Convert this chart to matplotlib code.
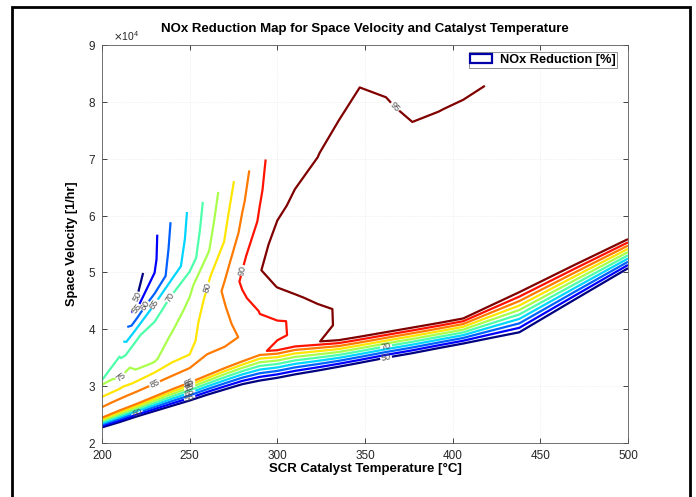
import numpy as np
import matplotlib
matplotlib.use('Agg')
import matplotlib.pyplot as plt
from matplotlib.patches import Patch, Rectangle

# SCR catalyst temperature [degC] for each column of the map
temps = [200, 210, 220, 230, 240, 250, 260, 270, 280, 290, 300, 310, 323,
         335, 347, 362, 377, 392, 406, 420, 438, 470, 500]

# space velocity [x1e4 1/hr]: lower edge of the map, ridge line, upper edge
sv_bottom = [2.26, 2.35, 2.45, 2.54, 2.63, 2.72, 2.82, 2.91, 3.00, 3.06, 3.11, 3.17,
             3.24, 3.31, 3.38, 3.47, 3.55, 3.64, 3.72, 3.80, 3.90, 4.49, 5.04]
sv_ridge = [2.46, 2.59, 2.71, 2.84, 2.97, 3.09, 3.22, 3.35, 3.47, 3.60, 3.65, 3.71,
            3.78, 3.84, 3.90, 3.98, 4.06, 4.14, 4.22, 4.43, 4.70, 5.18, 5.62]
sv_max = [3.11, 3.55, 4.66, 5.62, 5.91, 6.09, 6.29, 6.49, 6.71, 6.92, 7.12, 7.35,
          7.65, 8.05, 8.50, 8.60, 8.60, 8.55, 8.45, 8.26, 8.30, 8.40, 8.50]

# position of each map row between ridge (0) and upper edge (1)
row_frac = [0, 0.06, 0.13, 0.22, 0.32, 0.43, 0.55, 0.70, 0.85, 1.0]

# NOx reduction [%] on the lower edge, and from the ridge upwards (one list per column)
nox_bottom = 47.0
nox_upper = [
    [88, 87.35, 86.6, 85.6, 84.2, 82.1, 79.8, 77.5, 75.2, 69.8],
    [88, 87.1, 86.1, 84.5, 81.6, 78.5, 75.3, 73.3, 71.5, 69.6],
    [88, 86.4, 84.0, 78.4, 74.3, 72.6, 70.8, 63.8, 54.7, 47.9],
    [88, 85.9, 81.0, 74.4, 72.9, 71.25, 66.9, 55.8, 54.2, 54.0],
    [88, 85.9, 80.7, 77.9, 75.3, 72.9, 70.4, 62.5, 61.5, 60.6],
    [88, 86.3, 80.6, 78.5, 77.7, 76.2, 73.9, 67.5, 66.3, 65.8],
    [88, 86.1, 84.6, 83.0, 82.3, 81.0, 79.1, 74.3, 72.6, 71.4],
    [88, 86.2, 84.5, 83.6, 84.6, 85.9, 83.7, 80.2, 78.7, 77.1],
    [88, 86.6, 85.15, 87.2, 89.1, 90.8, 89.0, 86.3, 84.3, 82.6],
    [89, 88.9, 89.2, 90.2, 92.5, 94.8, 93.5, 90.6, 89.4, 88.6],
    [91.5, 89.5, 89.5, 92.5, 95.2, 97.0, 96.5, 94.3, 93.3, 92.8],
    [91.0, 90.4, 90.5, 94.5, 96.2, 97.5, 97.2, 95.6, 94.0, 93.5],
    [94.6, 94.2, 94.3, 95.8, 97.5, 98.0, 97.5, 96.2, 94.9, 93.5],
    [98, 95.3, 95.3, 96.5, 97.5, 98, 98, 97.5, 96.0, 93.5],
    [98, 97.5, 97.5, 98, 98, 98, 98, 97.5, 96.8, 94.0],
    [98, 98.5, 98.5, 98.5, 98.5, 98.5, 98.5, 97.5, 95.5, 93.5],
    [98, 98.5, 98.5, 98.5, 98.5, 98.5, 98, 96.5, 94.0, 93.0],
    [98, 98.5, 98.5, 98.5, 98.5, 98.5, 98, 97.0, 94.8, 93.5],
    [98, 98.5, 98.5, 98.5, 98.5, 98.5, 98, 97.5, 95.8, 93.5],
    [98, 98.5, 98.5, 98.5, 98.5, 98.5, 98, 97.5, 96.5, 95.2],
    [98, 98, 98, 98, 98, 98, 98, 98, 98, 98],
    [98, 98, 98, 98, 98, 98, 98, 98, 98, 98],
    [98, 98, 98, 98, 98, 98, 98, 98, 98, 98],
]
levels = [50, 55, 60, 65, 70, 75, 80, 85, 90, 95]

# build the curvilinear map grid
t = np.array(temps, dtype=float)
lo = np.array(sv_bottom)
top = np.array(sv_ridge)
hi = np.array(sv_max)
frac = np.array(row_frac)[:, None]
Y = np.vstack([lo, top + frac * (hi - top)]) * 1e4
X = np.tile(t, (Y.shape[0], 1))
Z = np.vstack([np.full(len(t), nox_bottom), np.array(nox_upper).T])

plt.rcParams['font.family'] = ['Liberation Sans', 'DejaVu Sans']

fig = plt.figure(figsize=(6.96, 4.97), dpi=100)
ax = fig.add_axes([102 / 696, 1 - 443 / 497, 526 / 696, 398 / 497])

cs = ax.contour(X, Y, Z, levels=levels, cmap='jet', vmin=50, vmax=95, linewidths=1.6)
ax.clabel(cs, fmt='%d', fontsize=6.5, colors='0.3', inline=True, inline_spacing=1)

ax.set_xlim(200, 500)
ax.set_ylim(2e4, 9e4)
ax.set_xticks(np.arange(200, 501, 50))
ax.set_yticks(np.arange(2e4, 9.01e4, 1e4))
ax.ticklabel_format(axis='y', style='sci', scilimits=(4, 4), useMathText=True)
ax.yaxis.get_offset_text().set_fontsize(7.5)
ax.yaxis.get_offset_text().set_x(0.02)
ax.tick_params(direction='in', top=True, right=True, length=3.5, width=0.6,
               labelsize=8.5, colors='0.15')
ax.tick_params(axis='x', pad=5)
ax.tick_params(axis='y', pad=4)
for s in ax.spines.values():
    s.set_linewidth(0.6)
    s.set_color('0.35')
ax.grid(True, linestyle=':', color='0.9', linewidth=0.5)

ax.set_title('NOx Reduction Map for Space Velocity and Catalyst Temperature',
             fontsize=9.5, fontweight='bold', pad=9)
ax.set_xlabel('SCR Catalyst Temperature [°C]', fontsize=9.5, fontweight='bold', labelpad=1)
ax.set_ylabel('Space Velocity [1/hr]', fontsize=9.2, fontweight='bold', labelpad=7)

handle = Patch(facecolor='white', edgecolor='#0000a8', linewidth=1.6, label='NOx Reduction [%]')
leg = ax.legend(handles=[handle], loc='upper right', bbox_to_anchor=(0.979, 0.982),
                borderaxespad=0, prop={'size': 9.2, 'weight': 'bold'},
                fancybox=False, edgecolor='0.5', framealpha=1,
                handlelength=1.7, handleheight=0.8, borderpad=0.12, handletextpad=0.6)
leg.get_frame().set_linewidth(0.6)

fig.add_artist(Rectangle((12 / 696, -0.02), 678 / 696, 1.02 - 7 / 497,
                         transform=fig.transFigure, fill=False,
                         edgecolor='black', linewidth=2.0))

fig.savefig('out.png', dpi=100)
